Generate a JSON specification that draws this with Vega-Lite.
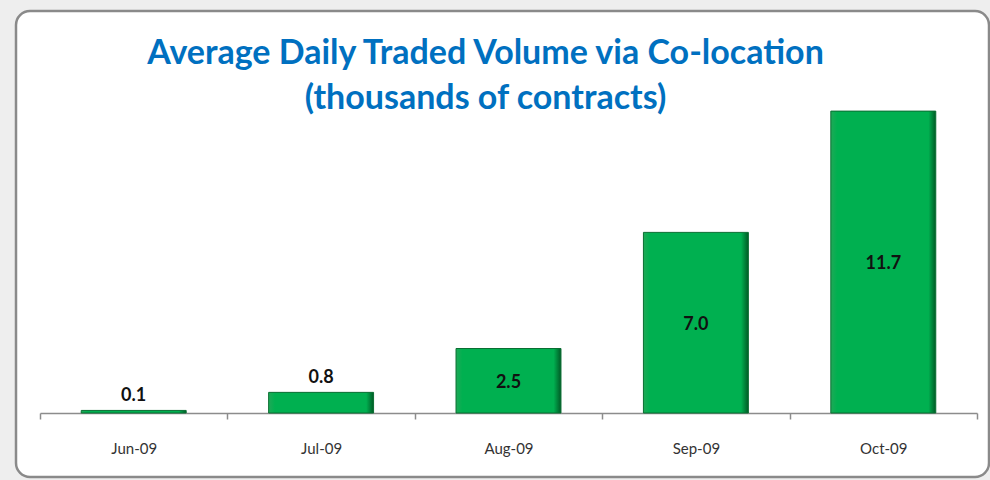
{
  "$schema": "https://vega.github.io/schema/vega-lite/v6.json",
  "width": 973,
  "height": 466,
  "autosize": "none",
  "padding": {"left": 16, "top": 11, "right": 1, "bottom": 3},
  "background": "#eeeeee",
  "view": {"stroke": "#8a8a8a", "strokeWidth": 2.5, "cornerRadius": 14, "fill": "white"},
  "title": {
    "text": ["Average Daily Traded Volume via Co-location", "(thousands of contracts)"],
    "font": "Lato",
    "fontSize": 34,
    "fontWeight": "bold",
    "color": "#0070C0",
    "lineHeight": 45,
    "anchor": "middle",
    "baseline": "alphabetic",
    "offset": -132,
    "dx": -17
  },
  "data": {
    "values": [
      {"month": "Jun-09", "volume": 0.1},
      {"month": "Jul-09", "volume": 0.8},
      {"month": "Aug-09", "volume": 2.5},
      {"month": "Sep-09", "volume": 7.0},
      {"month": "Oct-09", "volume": 11.7}
    ]
  },
  "encoding": {
    "x": {
      "field": "month",
      "type": "nominal",
      "sort": null,
      "scale": {"range": [24, 961], "paddingInner": 0, "paddingOuter": 0},
      "axis": {
        "title": null,
        "orient": "bottom",
        "offset": -64,
        "domainColor": "#8c8c8c",
        "domainWidth": 1.5,
        "tickColor": "#8c8c8c",
        "tickWidth": 1.5,
        "tickSize": 6,
        "tickBand": "extent",
        "labelAngle": 0,
        "labelFont": "Lato",
        "labelFontSize": 15,
        "labelColor": "#333333",
        "labelPadding": 22
      }
    }
  },
  "layer": [
    {
      "mark": {
        "type": "bar",
        "width": {"band": 0.56},
        "stroke": "#0a6e32",
        "strokeWidth": 1,
        "color": {
          "gradient": "linear",
          "x1": 0, "y1": 0, "x2": 1, "y2": 0,
          "stops": [
            {"offset": 0, "color": "#1fa957"},
            {"offset": 0.06, "color": "#00b050"},
            {"offset": 0.93, "color": "#00b050"},
            {"offset": 1, "color": "#005a25"}
          ]
        }
      },
      "encoding": {
        "y": {
          "field": "volume",
          "type": "quantitative",
          "scale": {"domain": [-2.48, 15.58], "nice": false, "zero": false},
          "axis": null
        }
      }
    },
    {
      "transform": [{"filter": "datum.volume < 1"}],
      "mark": {"type": "text", "font": "Lato", "fontSize": 18, "fontWeight": "bold", "color": "#111111", "baseline": "alphabetic", "dy": -9},
      "encoding": {
        "y": {"field": "volume", "type": "quantitative", "scale": {"domain": [-2.48, 15.58], "nice": false, "zero": false}},
        "text": {"field": "volume", "type": "quantitative", "format": ".1f"}
      }
    },
    {
      "transform": [{"filter": "datum.volume >= 1"}, {"calculate": "datum.volume / 2", "as": "mid"}],
      "mark": {"type": "text", "font": "Lato", "fontSize": 18, "fontWeight": "bold", "color": "#111111", "baseline": "middle", "dy": 2},
      "encoding": {
        "y": {"field": "mid", "type": "quantitative", "scale": {"domain": [-2.48, 15.58], "nice": false, "zero": false}},
        "text": {"field": "volume", "type": "quantitative", "format": ".1f"}
      }
    }
  ]
}
